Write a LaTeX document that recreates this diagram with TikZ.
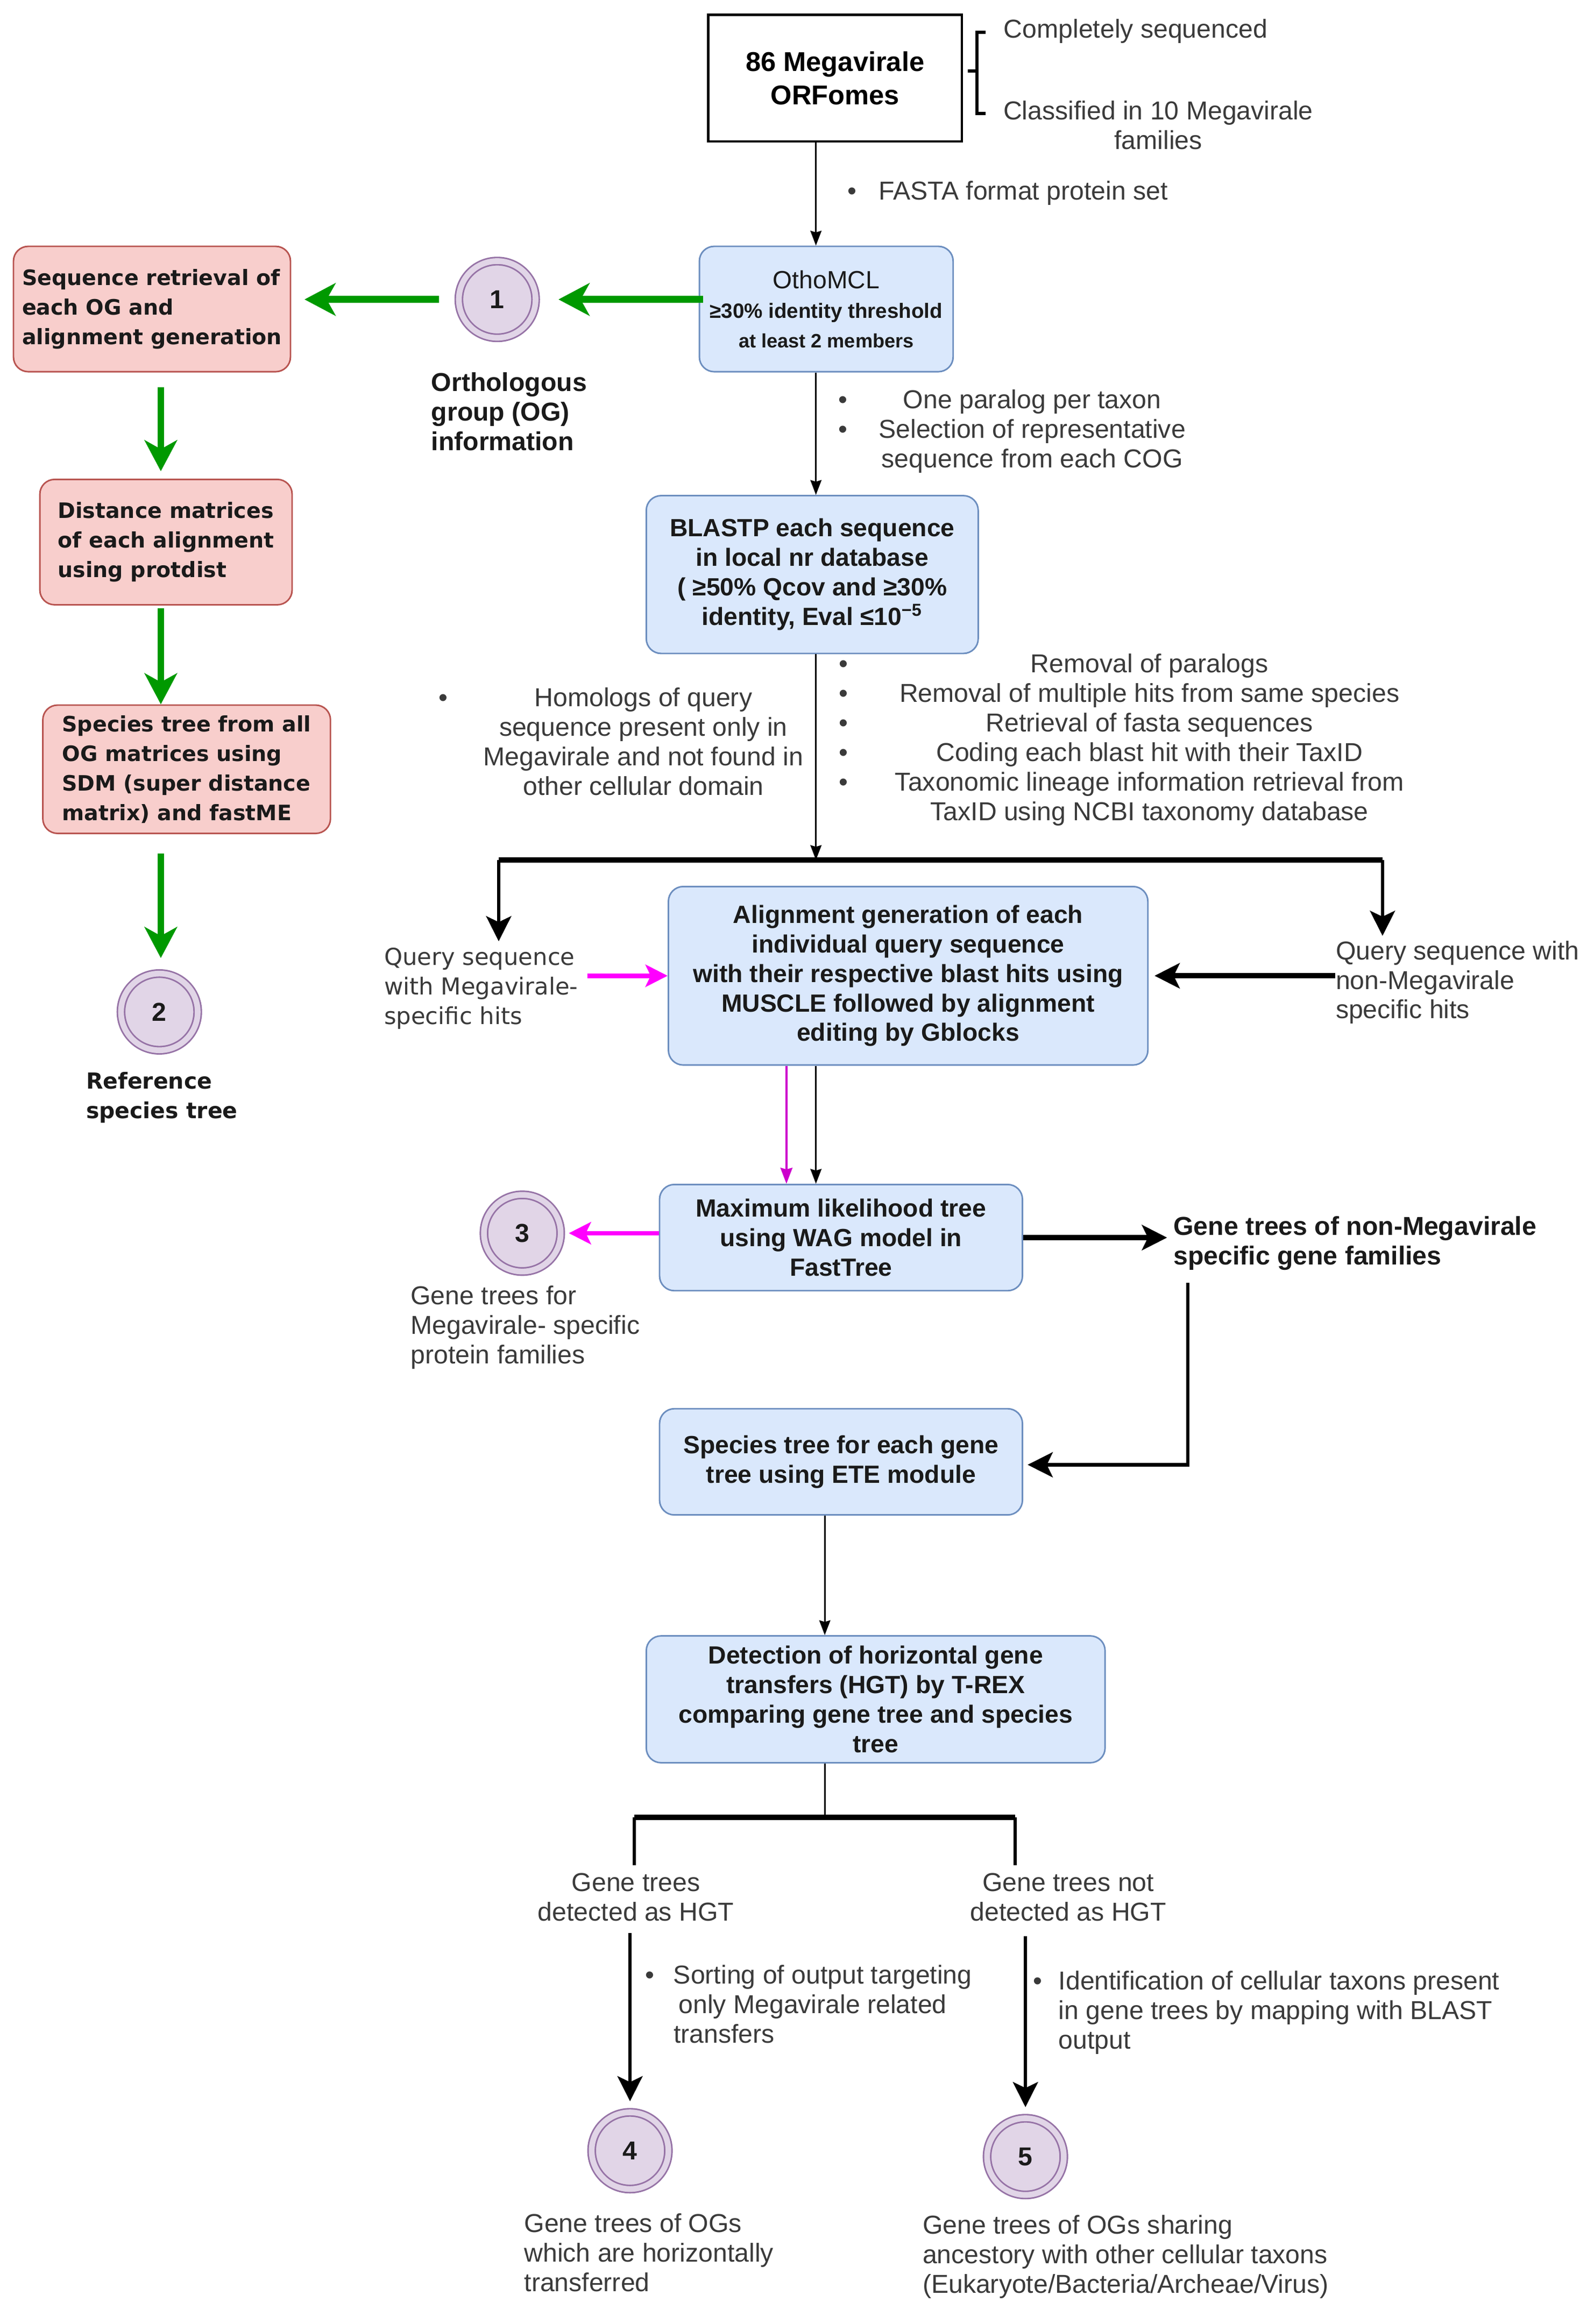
\documentclass[tikz,border=0pt]{standalone}
\usepackage{fontspec}
\setmainfont{Liberation Sans}
\newfontfamily\widefont{DejaVu Sans}
\usetikzlibrary{positioning,arrows.meta}
\definecolor{bluefill}{HTML}{DAE8FC}
\definecolor{blueline}{HTML}{6C8EBF}
\definecolor{redfill}{HTML}{F8CECC}
\definecolor{redline}{HTML}{B85450}
\definecolor{ringfill}{HTML}{E1D5E7}
\definecolor{ringline}{HTML}{9673A6}
\definecolor{flowgreen}{HTML}{009900}
\definecolor{flowpink}{HTML}{FF00FF}
\definecolor{notegray}{HTML}{3A3A3A}
\definecolor{inkblack}{HTML}{1A1A1A}
\tikzstyle{bluebox} = [draw=blueline, fill=bluefill, rounded corners=0.2cm, line width=0.6pt, align=center, text=inkblack, font=\fontsize{9.6}{11.4}\selectfont\bfseries]
\tikzstyle{redbox} = [draw=redline, fill=redfill, rounded corners=0.2cm, line width=0.6pt, align=left, text=inkblack, font=\widefont\fontsize{8.2}{11.4}\selectfont\bfseries]
\tikzstyle{ring} = [circle, draw=ringline, fill=ringfill, double=ringfill, double distance=2.2pt, line width=0.6pt, minimum size=1.04cm, inner sep=0pt, text=inkblack, font=\fontsize{10}{12}\selectfont\bfseries]
\tikzstyle{note} = [inner sep=0pt, text=notegray, font=\fontsize{10}{11.4}\selectfont]
\tikzstyle{boldnote} = [inner sep=0pt, text=inkblack, font=\fontsize{10}{11.4}\selectfont\bfseries]
\tikzstyle{bigtip} = [-{Stealth[length=0.34cm, width=0.34cm, inset=0.08cm]}]
\tikzstyle{thinline} = [draw=black, line width=0.6pt]
\tikzstyle{dropline} = [draw=black, line width=1.3pt]
\tikzstyle{thickline} = [draw=black, line width=2pt]
\tikzstyle{greenflow} = [draw=flowgreen, line width=2.6pt, -{Stealth[length=0.42cm, width=0.44cm, inset=0.12cm]}]
\tikzstyle{pinkflow} = [draw=flowpink, line width=1.8pt, -{Stealth[length=0.3cm, width=0.3cm, inset=0.07cm]}]
\tikzstyle{pinkthin} = [draw=flowpink!80!black, line width=0.7pt, ->]

\begin{document}
\begin{tikzpicture}[x=0.02cm, y=-0.02cm, >={Stealth[inset=0.6pt]}]
\useasboundingbox (0,0) rectangle (1080,1575.5);

\coordinate (spine) at (553,0);
\coordinate (pinkspine) at (533,0);
\coordinate (lowspine) at (559,0);
\coordinate (greenspine) at (109,0);

% main column
\node [draw, line width=0.9pt, fill=white, align=center, minimum width=3.44cm, minimum height=1.72cm, font=\fontsize{10.5}{13}\selectfont\bfseries] (orf) at (566,53) {86 Megavirale\\ORFomes};
\draw [line width=1.2pt] (668,22) -- (662,22) -- (662,77) -- (668,77) (662,48) -- (656,48);
\node [note, anchor=west] (complete) at (680,21) {Completely sequenced};
\node [note, align=center] (classified) at (785,85) {Classified in 10 Megavirale\\families};
\node [note, anchor=west] (fasta) at (574,131) {\textbullet\hspace{0.3cm}FASTA format protein set};

\node [bluebox, minimum width=3.44cm, minimum height=1.70cm] (omcl) at (560,209.5) {{\mdseries OthoMCL}\\{\fontsize{8}{10}\selectfont ≥30\% identity threshold}\\{\fontsize{7.5}{10}\selectfont at least 2 members}};
\node [note] (para) at (686,293) {\begin{tabular}{@{}c@{\hspace{0.42cm}}c@{}}\textbullet & One paralog per taxon\\ \textbullet & Selection of representative\\ & sequence from each COG\end{tabular}};

\node [bluebox, minimum width=4.50cm, minimum height=2.14cm] (blastp) at (550.5,389.5) {BLASTP each sequence\\in local nr database\\( ≥50\% Qcov and ≥30\%\\identity, Eval ≤10\textsuperscript{−5}};
\node [note] (homol) at (421,505) {\begin{tabular}{@{}c@{\hspace{0.48cm}}c@{}}\textbullet & Homologs of query\\ & sequence present only in\\ & Megavirale and not found in\\ & other cellular domain\end{tabular}};
\node [note] (filter) at (760,502) {\begin{tabular}{@{}c@{\hspace{0.64cm}}c@{}}\textbullet & Removal of paralogs\\ \textbullet & Removal of multiple hits from same species\\ \textbullet & Retrieval of fasta sequences\\ \textbullet & Coding each blast hit with their TaxID\\ \textbullet & Taxonomic lineage information retrieval from\\ & TaxID using NCBI taxonomy database\end{tabular}};

\coordinate (splitL) at (338,583);
\coordinate (splitR) at (937,583);
\node [note, align=left, anchor=west, font=\widefont\fontsize{9}{11.4}\selectfont] (qmega) at (260,670) {Query sequence\\with Megavirale-\\specific hits};
\node [note, align=left, anchor=west] (qnon) at (905,666) {Query sequence with\\non-Megavirale\\specific hits};
\node [bluebox, minimum width=6.50cm, minimum height=2.42cm] (align) at (615.5,661.5) {Alignment generation of each\\individual query sequence\\with their respective blast hits using\\MUSCLE followed by alignment\\editing by Gblocks};

\node [bluebox, minimum width=4.92cm, minimum height=1.44cm] (ml) at (570,839) {Maximum likelihood tree\\using WAG model in\\FastTree};
\node [ring] (c3) at (354,836) {3};
\node [note, align=left, anchor=west] (g3lab) at (278,900) {Gene trees for\\Megavirale- specific\\protein families};
\node [boldnote, align=left, anchor=west] (nonmeg) at (795,843) {Gene trees of non-Megavirale\\specific gene families};

\coordinate (turn) at (805,993);
\node [bluebox, minimum width=4.92cm, minimum height=1.44cm] (ete) at (570,991) {Species tree for each gene\\tree using ETE module};
\node [bluebox, minimum width=6.22cm, minimum height=1.72cm] (hgt) at (593.5,1152) {Detection of horizontal gene\\transfers (HGT) by T-REX\\comparing gene tree and species\\tree};

\coordinate (forkL) at (430,1232);
\coordinate (forkR) at (688,1232);
\node [note, align=center] (hgtyes) at (431,1286) {Gene trees\\detected as HGT};
\node [note, align=center] (hgtno) at (724,1286) {Gene trees not\\detected as HGT};
\node [note, anchor=west] (sortnote) at (437,1361) {\begin{tabular}{@{}l@{\hspace{0.26cm}}l@{}}\textbullet & Sorting of output targeting\\ & \hspace{2pt}only Megavirale related\\ & transfers\end{tabular}};
\node [note, anchor=west] (idnote) at (700,1365) {\begin{tabular}{@{}l@{\hspace{0.22cm}}l@{}}\textbullet & Identification of cellular taxons present\\ & in gene trees by mapping with BLAST\\ & output\end{tabular}};
\node [ring] (c4) at (427,1458) {4};
\node [ring] (c5) at (695,1462) {5};
\node [note, align=left, anchor=west] (g4lab) at (355,1527) {Gene trees of OGs\\which are horizontally\\transferred};
\node [note, align=left, anchor=west] (g5lab) at (625,1530) {Gene trees of OGs sharing\\ancestory with other cellular taxons\\(Eukaryote/Bacteria/Archeae/Virus)};

% left column
\node [ring] (c1) at (337,203) {1};
\node [boldnote, align=left, anchor=west] (oglab) at (292,279) {Orthologous\\group (OG)\\information};
\node [redbox, minimum width=3.72cm, minimum height=1.70cm] (seqret) at (103,209.5) {Sequence retrieval of\\each OG and\\alignment generation};
\node [redbox, minimum width=3.42cm, minimum height=1.70cm] (dist) at (112.5,367.5) {Distance matrices\\of each alignment\\using protdist};
\node [redbox, minimum width=3.90cm, minimum height=1.74cm] (sptree) at (126.5,521.5) {Species tree from all\\OG matrices using\\SDM (super distance\\matrix) and fastME};
\node [ring] (c2) at (108,686) {2};
\node [boldnote, align=left, anchor=west, font=\widefont\fontsize{8.5}{11.4}\selectfont\bfseries] (reflab) at (58,744) {Reference\\species tree};

% connectors
\draw [thinline, ->] (orf.south -| spine) -- (omcl.north -| spine);
\draw [thinline, ->] (omcl.south -| spine) -- (blastp.north -| spine);
\draw [thinline, ->] (blastp.south -| spine) -- (splitL -| spine);
\draw [thickline] (splitL) -- (splitR);
\draw [dropline, bigtip] (splitL) -- ([yshift=0.08cm]splitL |- qmega.north);
\draw [dropline, bigtip] (splitR) -- ([yshift=0.06cm]splitR |- qnon.north);
\draw [pinkflow, shorten <=0.12cm] (qmega.east |- align.west) -- (align.west);
\draw [thickline, bigtip] (qnon.west |- align.east) -- ([xshift=0.08cm]align.east);
\draw [pinkthin] (align.south -| pinkspine) -- (ml.north -| pinkspine);
\draw [thinline, ->] (align.south -| spine) -- (ml.north -| spine);
\draw [pinkflow, shorten >=0.1cm] (ml.west |- c3) -- (c3.east);
\draw [thickline, bigtip] (ml.east) -- ([xshift=-0.08cm]nonmeg.west |- ml.east);
\draw [dropline, bigtip] ([yshift=-0.16cm]turn |- nonmeg.south) -- (turn) -- ([xshift=0.06cm]ete.east |- turn);
\draw [thinline, ->] (ete.south -| lowspine) -- (hgt.north -| lowspine);
\draw [thinline] (hgt.south -| lowspine) -- (lowspine |- forkL);
\draw [thickline] (forkL) -- (forkR);
\draw [dropline] (forkL) -- ([yshift=0.1cm]forkL |- hgtyes.north);
\draw [dropline] (forkR) -- ([yshift=0.1cm]forkR |- hgtno.north);
\draw [dropline, bigtip, shorten <=0.16cm, shorten >=0.14cm] (c4 |- hgtyes.south) -- (c4.north);
\draw [dropline, bigtip, shorten <=0.2cm, shorten >=0.14cm] (c5 |- hgtno.south) -- (c5.north);

\draw [greenflow, shorten <=-0.06cm, shorten >=0.3cm] (omcl.west |- c1) -- (c1.east);
\draw [greenflow, shorten <=0.26cm, shorten >=0.18cm] (c1.west) -- (seqret.east |- c1);
\draw [greenflow, shorten <=0.2cm, shorten >=0.1cm] (seqret.south -| greenspine) -- (dist.north -| greenspine);
\draw [greenflow, shorten <=0.04cm] (dist.south -| greenspine) -- (sptree.north -| greenspine);
\draw [greenflow, shorten <=0.26cm, shorten >=0.2cm] (sptree.south -| greenspine) -- (c2.north -| greenspine);

\end{tikzpicture}
\end{document}
